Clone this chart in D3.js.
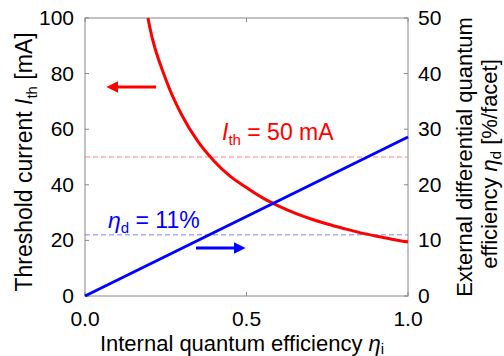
<!DOCTYPE html>
<html>
<head>
<meta charset="utf-8">
<script src="https://cdn.jsdelivr.net/npm/d3@7"></script>
<style>
  body { margin: 0; background: #fff; }
  svg text { font-family: "Liberation Sans", Arial, sans-serif; }
</style>
</head>
<body>
<div id="chart"></div>
<script>
// internal quantum efficiency samples and threshold current (mA)
const etaI = [0.195, 0.2, 0.25, 0.3, 0.35, 0.4, 0.45, 0.5, 0.55, 0.6, 0.65, 0.7, 0.75, 0.8, 0.85, 0.9, 0.95, 1.0];
const ith = [100, 97, 78, 65, 55.5, 48.5, 43, 39, 35.3, 32.3, 29.8, 27.7, 25.9, 24.3, 22.8, 21.6, 20.4, 19.4];
// external differential efficiency line (%/facet)
const etaDx = [0, 1.0];
const etaD = [0, 28.6];
// reference levels
const ithRef = 50;
const etaDRef = 11;
const xTicks = [0, 0.5, 1.0];
const yLeftTicks = [0, 20, 40, 60, 80, 100];
const yRightTicks = [0, 10, 20, 30, 40, 50];

const W = 504, H = 356;
const pL = 85, pR = 408, pT = 18, pB = 296;

const svg = d3.select("#chart").append("svg")
  .attr("width", W).attr("height", H);

const x = d3.scaleLinear().domain([0, 1]).range([pL, pR]);
const yL = d3.scaleLinear().domain([0, 100]).range([pB, pT]);
const yR = d3.scaleLinear().domain([0, 50]).range([pB, pT]);

const grey = "#888";

// frame
svg.append("rect")
  .attr("x", pL).attr("y", pT)
  .attr("width", pR - pL).attr("height", pB - pT)
  .attr("fill", "none").attr("stroke", grey).attr("stroke-width", 1);

// ticks (inside)
const fs = 22, ft = 22, fsub = 15;
svg.selectAll(".xt").data(xTicks).enter().append("line")
  .attr("x1", d => x(d)).attr("x2", d => x(d))
  .attr("y1", pB).attr("y2", pB - 4).attr("stroke", grey);
svg.selectAll(".xt2").data(xTicks).enter().append("line")
  .attr("x1", d => x(d)).attr("x2", d => x(d))
  .attr("y1", pT).attr("y2", pT + 4).attr("stroke", grey);
svg.selectAll(".xl").data(xTicks).enter().append("text")
  .attr("x", d => x(d)).attr("y", pB + 30)
  .attr("text-anchor", "middle").attr("font-size", 21)
  .text(d => d3.format(".1f")(d));

svg.selectAll(".yt").data(yLeftTicks).enter().append("line")
  .attr("x1", pL).attr("x2", pL + 4)
  .attr("y1", d => yL(d)).attr("y2", d => yL(d)).attr("stroke", grey);
svg.selectAll(".yl").data(yLeftTicks).enter().append("text")
  .attr("x", pL - 11).attr("y", d => yL(d) + 7)
  .attr("text-anchor", "end").attr("font-size", 21)
  .text(d => d);

svg.selectAll(".rt").data(yRightTicks).enter().append("line")
  .attr("x1", pR).attr("x2", pR - 4)
  .attr("y1", d => yR(d)).attr("y2", d => yR(d)).attr("stroke", grey);
svg.selectAll(".rl").data(yRightTicks).enter().append("text")
  .attr("x", pR + 10).attr("y", d => yR(d) + 7)
  .attr("text-anchor", "start").attr("font-size", 21)
  .text(d => d);

// dashed reference lines
svg.append("line")
  .attr("x1", pL).attr("x2", pR)
  .attr("y1", yL(ithRef)).attr("y2", yL(ithRef))
  .attr("stroke", "#ff8080").attr("stroke-width", 1).attr("stroke-dasharray", "5,3");
svg.append("line")
  .attr("x1", pL).attr("x2", pR)
  .attr("y1", yR(etaDRef)).attr("y2", yR(etaDRef))
  .attr("stroke", "#8080ff").attr("stroke-width", 1).attr("stroke-dasharray", "5,3");

// curves
const redData = etaI.map((e, i) => [e, ith[i]]);
svg.append("path")
  .datum(redData)
  .attr("fill", "none").attr("stroke", "#ff0000").attr("stroke-width", 3)
  .attr("d", d3.line().x(d => x(d[0])).y(d => yL(d[1])).curve(d3.curveMonotoneX));

const blueData = etaDx.map((e, i) => [e, etaD[i]]);
svg.append("path")
  .datum(blueData)
  .attr("fill", "none").attr("stroke", "#0000ff").attr("stroke-width", 3)
  .attr("d", d3.line().x(d => x(d[0])).y(d => yR(d[1])));

// arrows
const defs = svg.append("defs");
[["ar", "#ff0000"], ["ab", "#0000ff"]].forEach(([id, c]) => {
  defs.append("marker").attr("id", id)
    .attr("viewBox", "0 0 10 10").attr("refX", 2).attr("refY", 5)
    .attr("markerWidth", 4).attr("markerHeight", 4)
    .attr("orient", "auto")
    .append("path").attr("d", "M0,0 L10,5 L0,10 z").attr("fill", c);
});
svg.append("line")
  .attr("x1", 156).attr("y1", 87).attr("x2", 116).attr("y2", 87)
  .attr("stroke", "#ff0000").attr("stroke-width", 3).attr("marker-end", "url(#ar)");
svg.append("line")
  .attr("x1", 196).attr("y1", 248).attr("x2", 236).attr("y2", 248)
  .attr("stroke", "#0000ff").attr("stroke-width", 3).attr("marker-end", "url(#ab)");

// annotations
const t1 = svg.append("text").attr("x", 222).attr("y", 140)
  .attr("font-size", 23).attr("fill", "#ff0000");
t1.append("tspan").attr("font-style", "italic").text("I");
t1.append("tspan").attr("font-size", fsub).attr("dy", 5).text("th");
t1.append("tspan").attr("dy", -5).text(" = 50 mA");

const t2 = svg.append("text").attr("x", 108).attr("y", 228)
  .attr("font-size", 23).attr("fill", "#0000ff");
t2.append("tspan").attr("font-style", "italic").text("η");
t2.append("tspan").attr("font-size", fsub).attr("dy", 5).text("d");
t2.append("tspan").attr("dy", -5).text(" = 11%");

// axis titles
const xt = svg.append("text").attr("x", 242).attr("y", 351)
  .attr("text-anchor", "middle").attr("font-size", ft);
xt.append("tspan").text("Internal quantum efficiency ");
xt.append("tspan").attr("font-style", "italic").text("η");
xt.append("tspan").attr("font-size", fsub).attr("dy", 3).text("i");

const yt = svg.append("text")
  .attr("transform", "translate(32,162) rotate(-90)")
  .attr("text-anchor", "middle").attr("font-size", 23);
yt.append("tspan").text("Threshold current ");
yt.append("tspan").attr("font-style", "italic").text("I");
yt.append("tspan").attr("font-size", fsub).attr("dy", 5).text("th");
yt.append("tspan").attr("dy", -5).text(" [mA]");

svg.append("text")
  .attr("transform", "translate(472,157) rotate(-90)")
  .attr("text-anchor", "middle").attr("font-size", fs)
  .text("External differential quantum");
const rt2 = svg.append("text")
  .attr("transform", "translate(497,164) rotate(-90)")
  .attr("text-anchor", "middle").attr("font-size", fs);
rt2.append("tspan").text("efficiency ");
rt2.append("tspan").attr("font-style", "italic").text("η");
rt2.append("tspan").attr("font-size", fsub).attr("dy", 4).text("d");
rt2.append("tspan").attr("dy", -4).text(" [%/facet]");
</script>
</body>
</html>
